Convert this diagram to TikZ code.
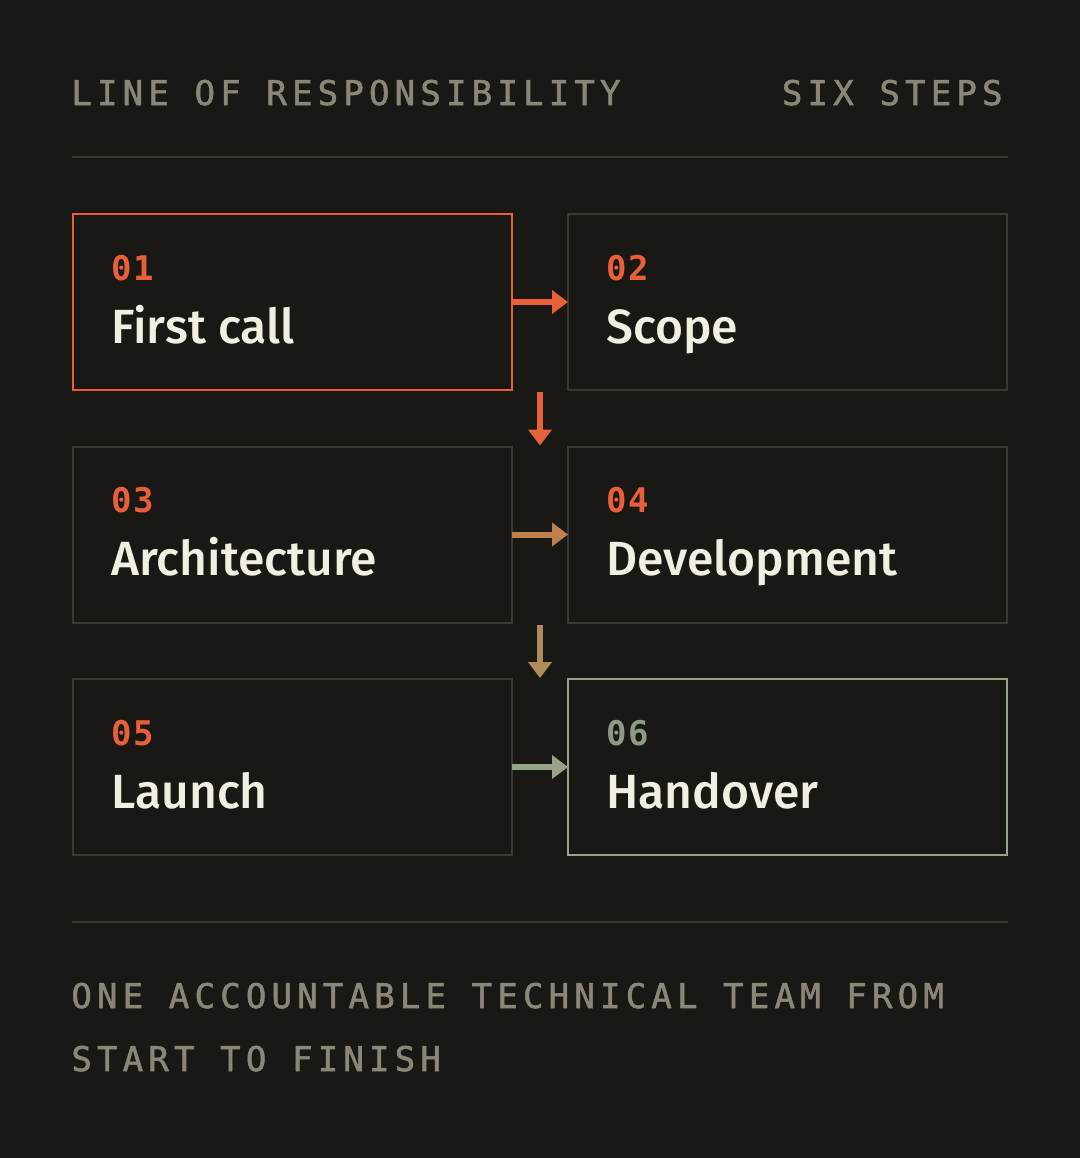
\documentclass[tikz,border=0pt]{standalone}
\usepackage{fontspec}
\usepackage{xcolor}
\usetikzlibrary{positioning,calc,arrows.meta}

\newfontfamily\capsfont[LetterSpace=15.3,FakeBold=1.6]{DejaVu Sans Mono}
\newfontfamily\numfont[LetterSpace=4]{DejaVu Sans Mono}
\IfFontExistsTF{Fira Sans Medium}
  {\newfontfamily\titlefont{Fira Sans Medium}\newcommand\titlesize{\fontsize{24pt}{28pt}\selectfont}}
  {\newfontfamily\titlefont{Liberation Sans}\newcommand\titlesize{\fontsize{22.4pt}{28pt}\selectfont\bfseries}}

\definecolor{bg}{HTML}{1A1814}
\definecolor{edge}{HTML}{3A3833}
\definecolor{muted}{HTML}{8C857A}
\definecolor{accent}{HTML}{E8603A}
\definecolor{copper}{HTML}{C0804C}
\definecolor{tan}{HTML}{B08C5A}
\definecolor{sage}{HTML}{97A38A}
\definecolor{sagetext}{HTML}{8E9A86}
\definecolor{ink}{HTML}{F2EEE4}

\begin{document}
\begin{tikzpicture}[
    x=0.5pt, y=-0.5pt,
    node distance=28.25pt and 28pt,
    stepbox/.style={rectangle, draw=edge, line width=1pt, outer sep=0pt, inner sep=0pt,
      minimum width=219.5pt, minimum height=88pt},
    headtext/.style={inner sep=0pt, text=muted, font=\capsfont\fontsize{17pt}{20pt}\selectfont},
    stepnum/.style={inner sep=0pt, text=accent, font=\numfont\fontsize{17pt}{20pt}\selectfont\bfseries},
    steptitle/.style={inner sep=0pt, text=ink, font=\titlefont\titlesize},
    flow/.style={line width=3pt, -{Triangle[length=8pt,width=11.5pt]}},
    rule/.style={draw=edge, line width=1.2pt}
]
    \fill[bg] (0,0) rectangle (1080,1158);

    % header
    \node[headtext, anchor=base west] (head) at (71,105) {LINE OF RESPONSIBILITY};
    \node[headtext, anchor=base east] (count) at (1003,105) {SIX STEPS};
    \coordinate (r1a) at (72,157);
    \coordinate (r1b) at (1008,157);
    \draw[rule] (r1a) -- (r1b);

    % the six steps
    \node[stepbox, draw=accent, anchor=north west] (b1) at (73,214) {};
    \node[stepbox, right=of b1] (b2) {};
    \node[stepbox, below=of b1] (b3) {};
    \node[stepbox, below=of b2] (b4) {};
    \node[stepbox, below=of b3] (b5) {};
    \node[stepbox, draw=sage, below=of b4] (b6) {};

    \node[stepnum, anchor=base west] (n1) at ($(b1.north west)+(38,66)$) {01};
    \node[steptitle, anchor=base west] (t1) at ($(b1.north west)+(38,129)$) {First call};
    \node[stepnum, anchor=base west] (n2) at ($(b2.north west)+(38,66)$) {02};
    \node[steptitle, anchor=base west] (t2) at ($(b2.north west)+(38,129)$) {Scope};
    \node[stepnum, anchor=base west] (n3) at ($(b3.north west)+(38,66)$) {03};
    \node[steptitle, anchor=base west] (t3) at ($(b3.north west)+(38,129)$) {Architecture};
    \node[stepnum, anchor=base west] (n4) at ($(b4.north west)+(38,66)$) {04};
    \node[steptitle, anchor=base west] (t4) at ($(b4.north west)+(38,129)$) {Development};
    \node[stepnum, anchor=base west] (n5) at ($(b5.north west)+(38,66)$) {05};
    \node[steptitle, anchor=base west] (t5) at ($(b5.north west)+(38,129)$) {Launch};
    \node[stepnum, text=sagetext, anchor=base west] (n6) at ($(b6.north west)+(38,66)$) {06};
    \node[steptitle, anchor=base west] (t6) at ($(b6.north west)+(38,129)$) {Handover};

    % connectors
    \coordinate (d1a) at ($(b1.south east)!0.5!(b2.south west)$);
    \coordinate (d1b) at ($(b3.north east)!0.5!(b4.north west)$);
    \coordinate (d2a) at ($(b3.south east)!0.5!(b4.south west)$);
    \coordinate (d2b) at ($(b5.north east)!0.5!(b6.north west)$);
    \draw[flow, draw=accent] (b1.east) -- (b2.west);
    \draw[flow, draw=accent!92!copper, shorten <=1pt, shorten >=0.5pt] (d1a) -- (d1b);
    \draw[flow, draw=copper] (b3.east) -- (b4.west);
    \draw[flow, draw=tan, shorten <=1pt, shorten >=0.5pt] (d2a) -- (d2b);
    \draw[flow, draw=sage] (b5.east) -- (b6.west);

    % footer
    \coordinate (r2a) at (72,922);
    \coordinate (r2b) at (1008,922);
    \draw[rule] (r2a) -- (r2b);
    \node[headtext, anchor=base west] (foot1) at (71,1008) {ONE ACCOUNTABLE TECHNICAL TEAM FROM};
    \node[headtext, anchor=base west] (foot2) at (71,1071) {START TO FINISH};
\end{tikzpicture}
\end{document}
